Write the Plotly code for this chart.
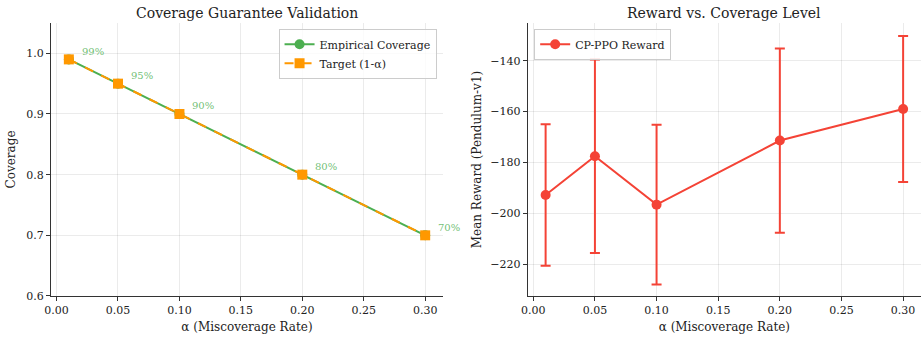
import plotly.graph_objects as go

alpha = [0.01, 0.05, 0.10, 0.20, 0.30]
empirical_coverage = [0.99, 0.95, 0.90, 0.80, 0.70]
target_coverage = [0.99, 0.95, 0.90, 0.80, 0.70]
coverage_labels = ["99%", "95%", "90%", "80%", "70%"]
reward_mean = [-192.8, -177.6, -196.6, -171.4, -159.0]
reward_std = [27.8, 38.0, 31.4, 36.2, 28.7]

GREEN = "#4CAF50"
ORANGE = "#FF9800"
RED = "#F44336"
FONT = "'DejaVu Serif', 'Liberation Serif', serif"
TXT = "#222222"

fig = go.Figure()
fig.add_trace(go.Scatter(x=alpha, y=empirical_coverage, mode="lines+markers",
                         name="Empirical Coverage", line=dict(color=GREEN, width=2),
                         marker=dict(symbol="circle", size=10, color=GREEN),
                         xaxis="x", yaxis="y", legend="legend"))
fig.add_trace(go.Scatter(x=alpha, y=target_coverage, mode="lines+markers",
                         name="Target (1-α)", line=dict(color=ORANGE, width=2, dash="dash"),
                         marker=dict(symbol="square", size=10, color=ORANGE),
                         xaxis="x", yaxis="y", legend="legend"))
fig.add_trace(go.Scatter(x=alpha, y=reward_mean, mode="lines+markers",
                         name="CP-PPO Reward", line=dict(color=RED, width=2),
                         marker=dict(symbol="circle", size=10, color=RED),
                         error_y=dict(type="data", array=reward_std, visible=True,
                                      color=RED, thickness=2, width=5),
                         xaxis="x2", yaxis="y2", legend="legend2"))

annotations = []
for a, c, t in zip(alpha, empirical_coverage, coverage_labels):
    annotations.append(dict(x=a, y=c, xref="x", yref="y", text=t, showarrow=False,
                            xanchor="left", yanchor="middle", xshift=11, yshift=8,
                            font=dict(family=FONT, size=10, color="rgba(76,175,80,0.8)")))
annotations.append(dict(x=(0.0554 + 0.481) / 2, y=1 - 13 / 338, xref="paper", yref="paper",
                        text="Coverage Guarantee Validation", showarrow=False,
                        xanchor="center", yanchor="middle",
                        font=dict(family=FONT, size=14, color=TXT)))
annotations.append(dict(x=(0.573 + 1.0) / 2, y=1 - 13 / 338, xref="paper", yref="paper",
                        text="Reward vs. Coverage Level", showarrow=False,
                        xanchor="center", yanchor="middle",
                        font=dict(family=FONT, size=14, color=TXT)))

axis_common = dict(showline=True, linecolor="#333333", linewidth=1.2, ticks="outside",
                   ticklen=4, tickcolor="#333333", showgrid=True,
                   gridcolor="rgba(0,0,0,0.08)", gridwidth=1, zeroline=False,
                   tickfont=dict(family=FONT, size=11, color=TXT), mirror=False,
                   automargin=False)

xtitle = dict(text="α (Miscoverage Rate)", font=dict(family=FONT, size=12, color=TXT), standoff=6)

fig.update_layout(
    width=921, height=338,
    margin=dict(l=0, r=0, t=0, b=0),
    plot_bgcolor="white", paper_bgcolor="white",
    font=dict(family=FONT, color=TXT),
    annotations=annotations,
    xaxis=dict(domain=[0.0554, 0.481], range=[-0.0045, 0.3145], anchor="y",
               tickvals=[0, 0.05, 0.10, 0.15, 0.20, 0.25, 0.30], tickformat=".2f",
               title=xtitle, **axis_common),
    yaxis=dict(domain=[0.1243, 0.932], range=[0.6, 1.05], anchor="x",
               tickvals=[0.6, 0.7, 0.8, 0.9, 1.0], tickformat=".1f",
               title=dict(text="Coverage", font=dict(family=FONT, size=12, color=TXT), standoff=8),
               **axis_common),
    xaxis2=dict(domain=[0.573, 1.0], range=[-0.0045, 0.3145], anchor="y2",
                tickvals=[0, 0.05, 0.10, 0.15, 0.20, 0.25, 0.30], tickformat=".2f",
                title=xtitle, **axis_common),
    yaxis2=dict(domain=[0.1243, 0.932], range=[-232.5, -125.2], anchor="x2",
                tickvals=[-220, -200, -180, -160, -140],
                title=dict(text="Mean Reward (Pendulum-v1)", font=dict(family=FONT, size=12, color=TXT), standoff=6),
                **axis_common),
    legend=dict(x=0.474, y=0.915, xanchor="right", yanchor="top",
                bgcolor="rgba(255,255,255,0.8)", bordercolor="#cccccc", borderwidth=1,
                font=dict(family=FONT, size=11, color=TXT), tracegroupgap=0),
    legend2=dict(x=0.580, y=0.915, xanchor="left", yanchor="top",
                 bgcolor="rgba(255,255,255,0.8)", bordercolor="#cccccc", borderwidth=1,
                 font=dict(family=FONT, size=11, color=TXT)),
)

fig.write_html("out.html")
